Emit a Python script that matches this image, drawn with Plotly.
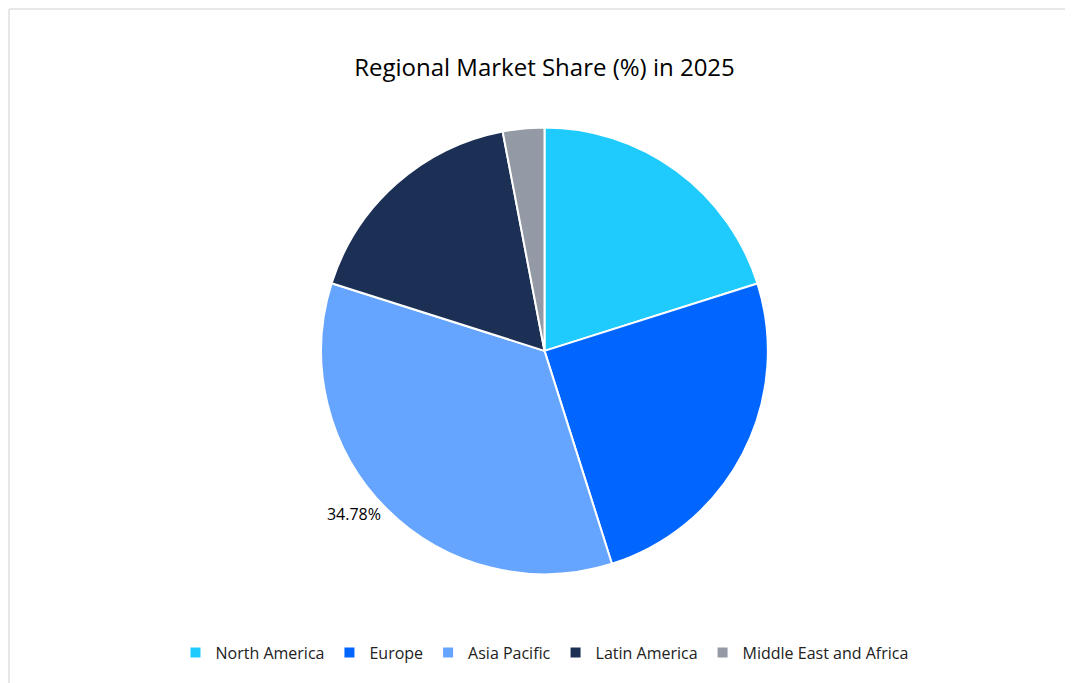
import plotly.graph_objects as go

regions = ["North America", "Europe", "Asia Pacific", "Latin America", "Middle East and Africa"]
shares = [20.12, 25.0, 34.78, 17.1, 3.0]
colors = ["#1FCAFC", "#0066FF", "#66A5FF", "#1C3055", "#939AA5"]
labels_shown = ["", "", "34.78%", "", ""]

fig = go.Figure(go.Pie(
    labels=regions,
    values=shares,
    text=labels_shown,
    textinfo="text",
    textposition=["inside", "inside", "outside", "inside", "inside"],
    textfont=dict(size=16, color="#000000"),
    sort=False,
    direction="clockwise",
    rotation=0,
    marker=dict(colors=colors, line=dict(color="white", width=2)),
    domain=dict(x=[0, 1], y=[0.170, 0.826]),
))

fig.update_layout(
    width=1073, height=683,
    font=dict(family="Open Sans", size=16, color="#222222"),
    title=dict(text="Regional Market Share (%) in 2025", x=0.5, y=0.925,
               xanchor="center", font=dict(size=24, color="#000000")),
    paper_bgcolor="white",
    margin=dict(l=1, r=1, t=1, b=1, autoexpand=False),
    legend=dict(orientation="h", x=0.5, xanchor="center", y=0.03, yanchor="bottom",
                font=dict(size=16), itemwidth=30),
    shapes=[dict(type="rect", xref="paper", yref="paper", x0=0, y0=0, x1=1, y1=1,
                 line=dict(color="#D0D0D0", width=1))],
)

fig.write_html("out.html")
